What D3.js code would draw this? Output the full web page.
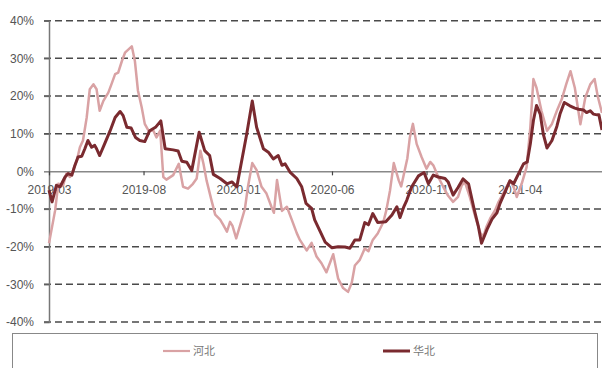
<!DOCTYPE html>
<html>
<head>
<meta charset="utf-8">
<script src="https://cdn.jsdelivr.net/npm/d3@7"></script>
<style>
  html, body { margin: 0; padding: 0; background: #fff; }
  svg { display: block; }
</style>
</head>
<body>
<svg id="chart" width="602" height="368"></svg>
<script>
// 河北 weekly price change (YoY, %)
const hebeiDates = [
  "2019-03-01","2019-03-11","2019-03-16","2019-03-24","2019-03-29","2019-04-04","2019-04-09","2019-04-15",
  "2019-04-20","2019-04-25","2019-05-01","2019-05-06","2019-05-12","2019-05-17","2019-05-22","2019-05-28",
  "2019-06-05","2019-06-10","2019-06-16","2019-06-21","2019-06-27","2019-07-02","2019-07-13","2019-07-18",
  "2019-07-23","2019-07-29","2019-08-03","2019-08-09","2019-08-17","2019-08-22","2019-08-28","2019-09-02",
  "2019-09-07","2019-09-18","2019-09-27","2019-10-04","2019-10-12","2019-10-20","2019-10-26","2019-11-01",
  "2019-11-06","2019-11-11","2019-11-19","2019-11-25","2019-12-03","2019-12-08","2019-12-14","2019-12-19",
  "2019-12-23","2019-12-29","2020-01-04","2020-01-12","2020-01-17","2020-01-24","2020-01-31","2020-02-08",
  "2020-02-16","2020-02-24","2020-02-28","2020-03-04","2020-03-12","2020-03-20","2020-03-28","2020-04-05",
  "2020-04-10","2020-04-21","2020-04-29","2020-05-07","2020-05-15","2020-05-23","2020-06-03","2020-06-11",
  "2020-06-19","2020-06-27","2020-07-03","2020-07-08","2020-07-16","2020-07-24","2020-07-30","2020-08-06",
  "2020-08-14","2020-08-23","2020-08-28","2020-09-03","2020-09-09","2020-09-17","2020-09-21","2020-09-27",
  "2020-10-01","2020-10-05","2020-10-10","2020-10-16","2020-10-24","2020-11-01","2020-11-07","2020-11-12",
  "2020-11-20","2020-11-28","2020-12-06","2020-12-14","2020-12-22","2020-12-28","2021-01-02","2021-01-10",
  "2021-01-19","2021-01-27","2021-02-01","2021-02-06","2021-02-12","2021-02-20","2021-02-25","2021-03-05",
  "2021-03-16","2021-03-22","2021-03-27","2021-04-04","2021-04-12","2021-04-18","2021-04-23","2021-04-28",
  "2021-05-06","2021-05-15","2021-05-23","2021-05-31","2021-06-08","2021-06-15","2021-06-22","2021-06-29",
  "2021-07-08","2021-07-16","2021-07-24","2021-07-31","2021-08-05","2021-08-12"
];
const hebeiValues = [
  -19.1,-10.3,-3.3,-3.7,-0.6,-1.5,0.3,2.9,
  6.4,8.2,14.3,21.8,23.1,21.8,16.1,18.7,
  20.9,23.1,25.8,26.2,29.3,31.5,33.2,29.3,
  21.4,17.0,12.6,10.8,10.8,9.0,10.8,-1.5,
  -2.2,-1.0,2.0,-4.1,-4.6,-3.3,-1.9,5.5,
  2.0,-2.4,-7.7,-11.5,-12.8,-14.2,-16.0,-13.4,
  -14.5,-17.8,-14.5,-10.0,-4.1,2.2,0.3,-4.1,
  -5.9,-9.4,-11.0,-2.3,-10.5,-9.4,-12.9,-16.4,
  -18.2,-21.0,-19.0,-22.6,-24.4,-26.8,-22.0,-28.5,
  -31.0,-32.0,-29.6,-25.0,-23.5,-20.5,-21.2,-18.2,
  -16.5,-13.5,-10.3,-5.0,2.2,-2.4,-4.0,0.5,
  3.5,9.0,12.6,7.3,3.8,0.7,2.5,1.6,
  -1.5,-4.1,-6.5,-8.1,-6.8,-3.7,-2.8,-6.8,
  -12.1,-16.3,-17.3,-14.7,-12.5,-10.3,-8.3,-5.9,
  -2.4,-4.1,-6.8,-3.3,1.1,11.7,24.5,22.2,
  16.1,10.8,12.6,16.1,19.2,23.1,26.6,22.2,
  12.5,19.6,23.1,24.5,20.0,15.5
];

// 华北 weekly price change (YoY, %)
const huabeiDates = [
  "2019-03-01","2019-03-06","2019-03-13","2019-03-19","2019-03-27","2019-04-01","2019-04-07","2019-04-12",
  "2019-04-17","2019-04-23","2019-04-28","2019-05-03","2019-05-09","2019-05-14","2019-05-17","2019-05-22",
  "2019-05-30","2019-06-08","2019-06-16","2019-06-24","2019-06-29","2019-07-05","2019-07-12","2019-07-19",
  "2019-07-26","2019-08-03","2019-08-11","2019-08-21","2019-08-29","2019-09-05","2019-09-18","2019-09-26",
  "2019-10-02","2019-10-10","2019-10-18","2019-10-30","2019-11-08","2019-11-16","2019-11-22","2019-12-03",
  "2019-12-14","2019-12-22","2019-12-30","2020-01-15","2020-01-24","2020-01-31","2020-02-11","2020-02-19",
  "2020-02-27","2020-03-06","2020-03-12","2020-03-17","2020-03-25","2020-04-05","2020-04-13","2020-04-20",
  "2020-04-29","2020-05-04","2020-05-13","2020-05-21","2020-06-01","2020-06-11",
  "2020-06-22","2020-06-30","2020-07-08","2020-07-16","2020-07-24","2020-07-30","2020-08-06","2020-08-14",
  "2020-08-27","2020-09-06","2020-09-14","2020-09-19","2020-09-25","2020-09-30","2020-10-08","2020-10-19",
  "2020-10-28","2020-11-04","2020-11-12","2020-11-20","2020-12-01","2020-12-06","2020-12-14","2020-12-22",
  "2020-12-30","2021-01-08","2021-01-17","2021-01-24","2021-01-29","2021-02-07","2021-02-15","2021-02-23",
  "2021-02-28","2021-03-08","2021-03-16","2021-03-22","2021-03-30","2021-04-07","2021-04-13","2021-04-18",
  "2021-04-23","2021-04-28","2021-05-04","2021-05-09","2021-05-15","2021-05-23","2021-05-31","2021-06-05",
  "2021-06-12","2021-06-21","2021-06-29","2021-07-05","2021-07-13","2021-07-18","2021-07-24","2021-07-29",
  "2021-08-04","2021-08-07","2021-08-12"
];
const huabeiValues = [
  -5.0,-8.1,-3.7,-4.1,-1.5,-0.6,-1.0,1.6,
  3.8,4.0,6.0,8.2,6.4,6.9,6.0,4.2,
  7.3,10.8,14.3,15.9,14.8,11.7,11.5,9.0,
  8.2,7.9,10.8,11.8,13.4,6.0,5.7,5.4,
  2.7,2.4,0.2,10.4,5.5,4.2,-0.8,-1.9,
  -3.3,-2.8,-4.1,9.9,18.7,11.7,6.0,5.1,
  3.3,4.2,1.6,2.0,-0.2,-1.9,-4.1,-8.5,
  -9.8,-12.9,-16.0,-18.8,-20.3,-20.0,
  -20.1,-20.4,-18.2,-18.2,-13.6,-14.2,-11.2,-13.6,
  -13.4,-11.6,-9.4,-12.3,-9.5,-7.7,-4.1,-1.2,
  -0.3,-3.3,-1.0,-1.5,-1.9,-2.8,-6.3,-4.3,
  -2.0,-3.3,-10.0,-14.7,-19.1,-15.4,-12.7,-11.0,
  -8.5,-5.5,-2.5,-3.3,-0.6,2.0,2.5,7.3,
  13.5,17.5,15.2,9.9,6.2,8.2,12.0,15.2,
  18.3,17.4,16.8,16.5,16.3,15.6,16.1,15.2,
  15.0,15.0,11.0
];

// axis ticks
const yTicks = [40, 30, 20, 10, 0, -10, -20, -30, -40];
const xTickLabels = ["2019-03", "2019-08", "2020-01", "2020-06", "2020-11", "2021-04"];
const xStart = "2019-03-01", xEnd = "2021-08-12";
const seriesNames = ["河北", "华北"];
const seriesColors = ["#d9a2a4", "#7a2a2f"];

const parse = d3.timeParse("%Y-%m-%d");
const parseMonth = d3.timeParse("%Y-%m");

const svg = d3.select("#chart");
const plot = { left: 49, right: 602, top: 20.7, bottom: 322 };

const x = d3.scaleTime().domain([parse(xStart), parse(xEnd)]).range([plot.left, plot.right]);
const y = d3.scaleLinear().domain([-40, 40]).range([plot.bottom, plot.top]);

// dashed gridlines (zero line drawn by the x axis)
svg.append("g")
  .selectAll("line")
  .data(yTicks.filter(d => d !== 0))
  .join("line")
  .attr("x1", plot.left - 5).attr("x2", plot.right)
  .attr("y1", d => y(d)).attr("y2", d => y(d))
  .attr("stroke", "#4a4a4a")
  .attr("stroke-width", 1.5)
  .attr("stroke-dasharray", "7,4");

// y axis
const yAxis = svg.append("g")
  .attr("transform", `translate(${plot.left},0)`)
  .call(d3.axisLeft(y).tickValues(yTicks).tickFormat(d => d + "%").tickSize(5).tickPadding(10));
yAxis.select(".domain").attr("stroke", "#777").attr("stroke-width", 1.5);
yAxis.selectAll(".tick line").attr("stroke", "#666").attr("stroke-width", 1.2);
yAxis.selectAll("text")
  .attr("fill", "#555")
  .style("font-family", "'Liberation Sans', Arial, sans-serif")
  .style("font-size", "12px");

// x axis along the zero line
const xAxis = svg.append("g")
  .attr("transform", `translate(0,${y(0)})`)
  .call(d3.axisBottom(x)
    .tickValues(xTickLabels.map(parseMonth))
    .tickFormat(d3.timeFormat("%Y-%m"))
    .tickSize(4).tickPadding(10).tickSizeOuter(0));
xAxis.select(".domain").attr("stroke", "#888").attr("stroke-width", 1.5);
xAxis.selectAll(".tick line").attr("stroke", "#444").attr("stroke-width", 1.2);
xAxis.selectAll("text")
  .attr("fill", "#555")
  .style("font-family", "'Liberation Sans', Arial, sans-serif")
  .style("font-size", "12px");

// series lines
const line = d3.line()
  .x(d => x(d[0]))
  .y(d => y(d[1]));

const series = [
  { name: seriesNames[0], color: seriesColors[0], width: 2.5,
    pts: hebeiDates.map((d, i) => [parse(d), hebeiValues[i]]) },
  { name: seriesNames[1], color: seriesColors[1], width: 3,
    pts: huabeiDates.map((d, i) => [parse(d), huabeiValues[i]]) }
];

svg.append("g")
  .selectAll("path")
  .data(series)
  .join("path")
  .attr("d", s => line(s.pts))
  .attr("fill", "none")
  .attr("stroke", s => s.color)
  .attr("stroke-width", s => s.width)
  .attr("stroke-linejoin", "round");

// legend
const legend = svg.append("g");
legend.append("rect")
  .attr("x", 12.5).attr("y", 333.5)
  .attr("width", 585).attr("height", 40)
  .attr("fill", "#fff")
  .attr("stroke", "#888").attr("stroke-width", 1);

const legendX = [163, 383];
series.forEach((s, i) => {
  const g = legend.append("g").attr("transform", `translate(${legendX[i]},351)`);
  g.append("line")
    .attr("x1", 0).attr("x2", 27).attr("y1", 0).attr("y2", 0)
    .attr("stroke", s.color).attr("stroke-width", i === 0 ? 2.2 : 3);
  g.append("text")
    .attr("x", 30).attr("y", 4)
    .attr("fill", "#777")
    .style("font-family", "'Noto Sans CJK SC', sans-serif")
    .style("font-size", "11px")
    .text(s.name);
});
</script>
</body>
</html>
